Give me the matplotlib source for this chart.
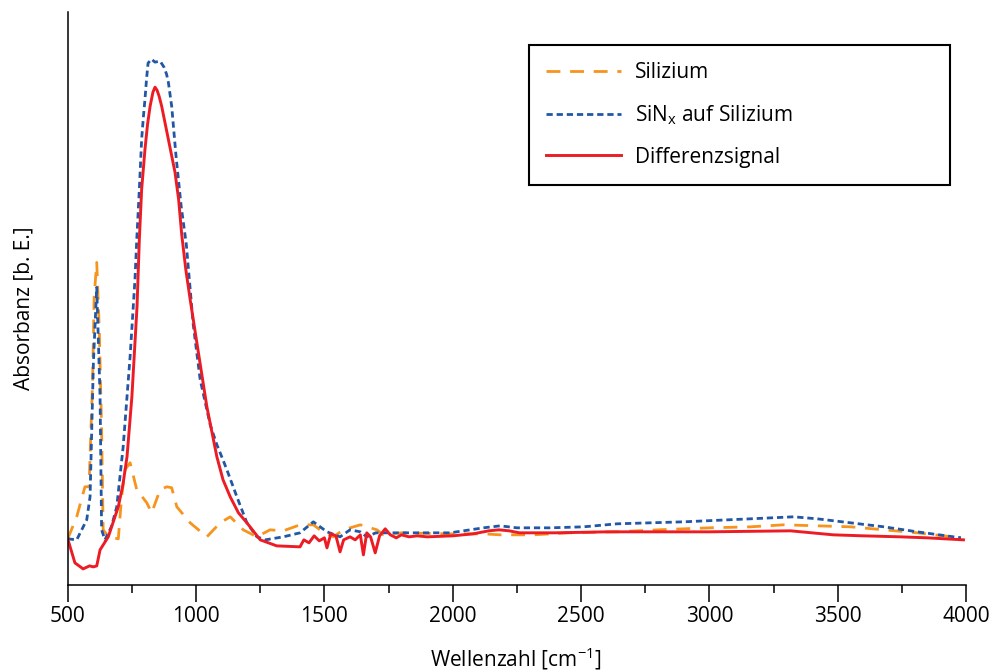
"""FTIR absorbance spectra: Si, SiNx on Si and difference signal."""
import matplotlib
matplotlib.use("Agg")
import matplotlib.pyplot as plt
from matplotlib.ticker import MultipleLocator

plt.rcParams["font.family"] = ["Open Sans", "DejaVu Sans"]
plt.rcParams["mathtext.fontset"] = "custom"
plt.rcParams["mathtext.rm"] = "Open Sans"
plt.rcParams["mathtext.it"] = "Open Sans"
plt.rcParams["lines.scale_dashes"] = False

FS = 15

# ---- data (absorbance in arbitrary units) ---------------------------------
si_wn = [500, 535, 567, 583, 597, 603, 613, 623, 632, 638, 660, 697, 710, 723,
         743, 769, 808, 827, 860, 886, 905, 925, 977, 1042, 1094, 1133, 1184,
         1237, 1288, 1340, 1405, 1457, 1483, 1535, 1574, 1640, 1705, 1730,
         1800, 1990, 2120, 2185, 2315, 2450, 2640, 2800, 3000, 3160, 3290,
         3420, 3550, 3680, 3810, 3980]
si_abs = [46, 68, 98, 98, 205, 288, 322, 255, 155, 55, 48, 46, 88, 115,
          122, 95, 82, 72, 95, 98, 97, 78, 62, 48, 62, 68, 55,
          48, 55, 54, 60, 60, 55, 48, 55, 60, 55, 50,
          52, 51, 51, 50, 50, 52, 53, 55, 57, 58, 60,
          59, 58, 55, 52, 47]

sin_wn = [500, 535, 574, 587, 600, 613, 626, 632, 645, 670, 691, 716, 743, 762,
          769, 779, 788, 795, 801, 807, 813, 826, 840, 860, 875, 885, 892, 905,
          922, 942, 962, 989, 1016, 1055, 1081, 1100, 1120, 1159, 1198, 1237,
          1270, 1340, 1405, 1457, 1510, 1561, 1600, 1640, 1665, 1700, 1800,
          1990, 2120, 2185, 2250, 2380, 2510, 2640, 2900, 3160, 3328, 3420,
          3550, 3680, 3810, 3980]
sin_abs = [46, 45, 65, 88, 222, 297, 188, 55, 45, 58, 78, 138, 228, 305,
           345, 395, 445, 468, 485, 505, 521, 525, 522, 523, 517, 510, 502, 478,
           428, 378, 340, 260, 205, 160, 140, 128, 115, 88, 62, 48,
           45, 48, 52, 63, 53, 48, 55, 53, 48, 52, 52,
           52, 57, 59, 57, 57, 58, 61, 63, 66, 68, 66,
           62, 58, 53, 47]

diff_wn = [500, 528, 560, 585, 600, 613, 626, 658, 697, 715, 731, 750, 770,
           779, 788, 801, 811, 821, 832, 840, 848, 856, 866, 892, 918, 932,
           944, 960, 977, 1003, 1042, 1081, 1105, 1133, 1165, 1198, 1250, 1314,
           1405, 1420, 1440, 1460, 1480, 1500, 1510, 1525, 1545, 1561, 1575,
           1600, 1620, 1640, 1652, 1665, 1680, 1698, 1715, 1737, 1757, 1780,
           1800, 1830, 1861, 1900, 2000, 2080, 2140, 2180, 2220, 2260, 2400,
           2600, 2800, 3000, 3316, 3483, 3600, 3744, 3850, 3990]
diff_abs = [46, 22, 16, 19, 18, 19, 35, 48, 78, 100, 128, 188, 278,
            345, 395, 435, 460, 478, 492, 497, 494, 488, 478, 445, 412, 385,
            350, 315, 285, 242, 178, 128, 105, 88, 72, 62, 45, 39,
            38, 45, 42, 49, 44, 47, 37, 51, 49, 33, 45,
            48, 45, 50, 30, 52, 48, 32, 49, 56, 50, 47,
            50, 48, 49, 48, 49, 51, 54, 55, 54, 52, 52,
            53, 53, 53, 54, 50, 49, 48, 47, 45]

labels = ["Silizium", "SiN$_\\mathrm{x}$ auf Silizium", "Differenzsignal"]
colors = ["#F7941D", "#2157A5", "#ED1C24"]

# ---- figure ----------------------------------------------------------------
fig = plt.figure(figsize=(9.99, 6.70), dpi=100)
ax = fig.add_axes([0.0678, 0.127, 0.8992, 0.855])

ax.plot(si_wn, si_abs, color=colors[0], lw=2.0, dashes=(10, 7),
        label=labels[0])
ax.plot(sin_wn, sin_abs, color=colors[1], lw=2.0, dashes=(4.5, 2.8),
        label=labels[1])
ax.plot(diff_wn, diff_abs, color=colors[2], lw=2.1, label=labels[2])

ax.set_xlim(500, 4000)
ax.set_ylim(0, 572)

for side in ("top", "right"):
    ax.spines[side].set_visible(False)
for side in ("left", "bottom"):
    ax.spines[side].set_linewidth(1.1)

ax.set_yticks([])
ax.xaxis.set_major_locator(MultipleLocator(500))
ax.xaxis.set_minor_locator(MultipleLocator(250))
ax.tick_params(axis="x", which="major", direction="out", length=12,
               width=1.1, pad=3, labelsize=FS)
ax.tick_params(axis="x", which="minor", direction="out", length=6, width=1.1)

ax.set_xlabel("Wellenzahl [cm$^{-1}$]", fontsize=FS)
ax.set_ylabel("Absorbanz [b. E.]", fontsize=FS)
ax.xaxis.set_label_coords(0.499, -0.105)
ax.yaxis.set_label_coords(-0.0375, 0.4825)

leg = ax.legend(loc="upper left", bbox_to_anchor=(0.5135, 0.0, 0.4687, 0.942),
                mode="expand", borderaxespad=0, fontsize=FS, fancybox=False,
                framealpha=1, edgecolor="black", handlelength=3.6,
                handletextpad=0.65, labelspacing=0.95, borderpad=0.82)
leg.get_frame().set_linewidth(1.5)

fig.savefig("out.png", dpi=100)
